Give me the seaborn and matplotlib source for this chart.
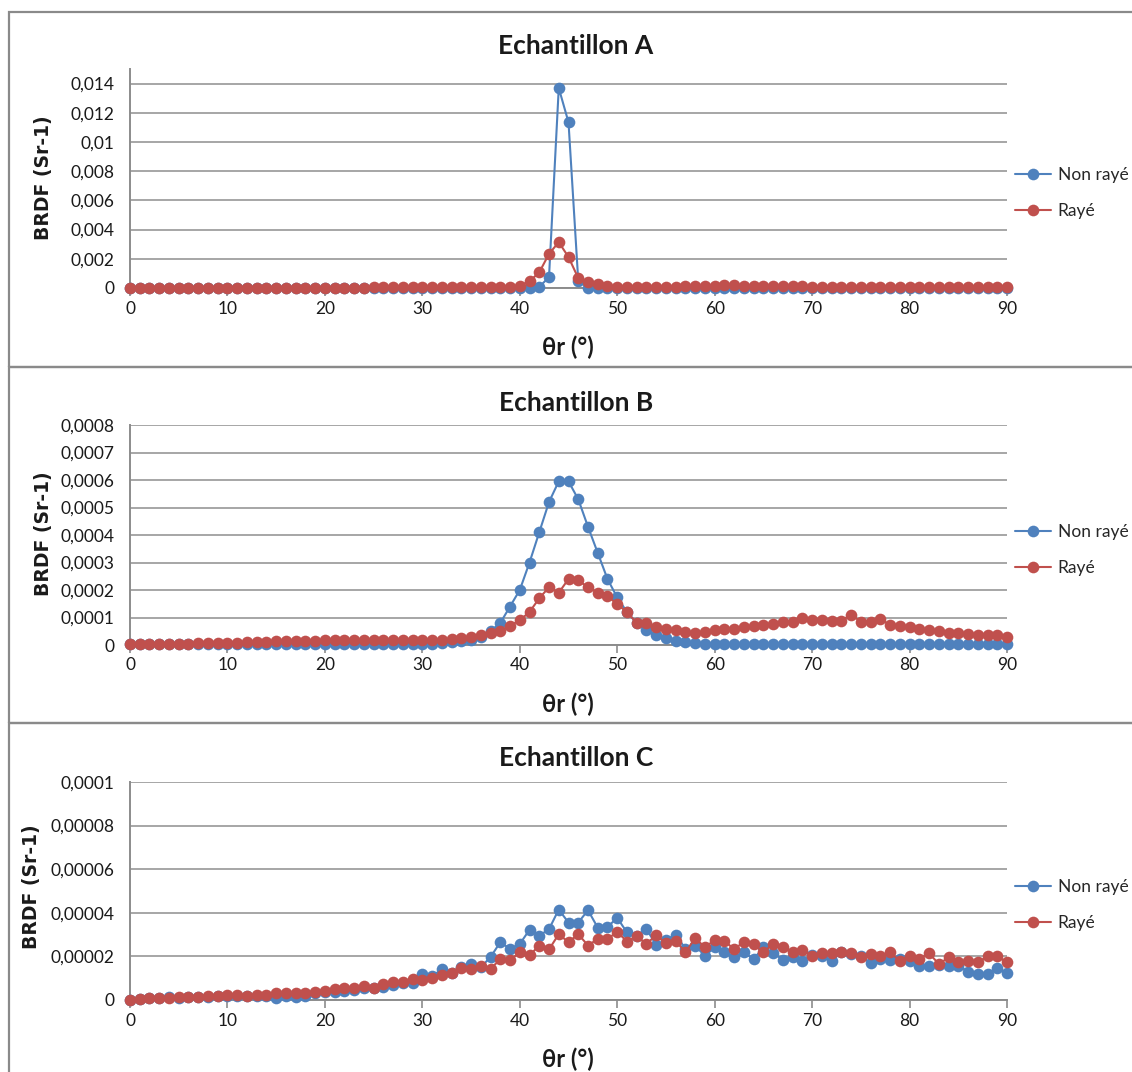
import matplotlib
matplotlib.use("Agg")
import numpy as np
import pandas as pd
import seaborn as sns
import matplotlib.pyplot as plt
from matplotlib.patches import Rectangle
from matplotlib.lines import Line2D

# ---------------- data ----------------
theta = list(range(0, 91))

series_names = ["Non rayé", "Rayé"]
titles = ["Echantillon A", "Echantillon B", "Echantillon C"]

a_non_raye = [
    0.00001, 0.00001, 0.00001, 0.00001, 0.00001, 0.00001, 0.00001, 0.00001, 0.00001, 0.00001,
    0.00001, 0.00001, 0.00001, 0.00001, 0.00001, 0.00001, 0.00001, 0.00001, 0.00001, 0.00001,
    0.00001, 0.00001, 0.00001, 0.00001, 0.00001, 0.00001, 0.00001, 0.00001, 0.00001, 0.00001,
    0.00001, 0.00001, 0.00001, 0.00001, 0.00001, 0.00001, 0.00001, 0.00001, 0.00001, 0.00001,
    0.00001, 0.00002, 0.00007, 0.00075, 0.0137, 0.01135, 0.0005, 0.00001, 0.00001, 0.00001,
    0.00001, 0.00001, 0.00001, 0.00001, 0.00001, 0.00001, 0.00001, 0.00001, 0.00001, 0.00002,
    0.00003, 0.00003, 0.00003, 0.00003, 0.00003, 0.00003, 0.00003, 0.00002, 0.00002, 0.00001,
    0.00001, 0.00001, 0.00001, 0.00001, 0.00001, 0.00001, 0.00001, 0.00001, 0.00001, 0.00001,
    0.00001, 0.00001, 0.00001, 0.00001, 0.00001, 0.00001, 0.00001, 0.00001, 0.00001, 0.00001,
    0.00001,
]
a_raye = [
    0.00002, 0.00002, 0.00002, 0.00002, 0.00002, 0.00002, 0.00002, 0.00002, 0.00002, 0.00002,
    0.00002, 0.00002, 0.00002, 0.00002, 0.00002, 0.00002, 0.00002, 0.00002, 0.00002, 0.00002,
    0.00002, 0.00002, 0.00002, 0.00002, 0.00003, 0.00004, 0.00004, 0.00004, 0.00004, 0.00004,
    0.00004, 0.00004, 0.00004, 0.00004, 0.00004, 0.00005, 0.00005, 0.00006, 0.00008, 0.0001,
    0.00016, 0.00046, 0.00107, 0.00234, 0.00314, 0.00212, 0.00068, 0.00039, 0.0003, 0.00015,
    0.0001, 0.0001, 0.0001, 0.0001, 0.0001, 0.0001, 0.0001, 0.00011, 0.00012, 0.00014,
    0.00016, 0.00018, 0.00018, 0.00017, 0.00016, 0.00015, 0.00015, 0.00014, 0.00013, 0.00011,
    0.00008, 0.00006, 0.00005, 0.00005, 0.00004, 0.00004, 0.00004, 0.00004, 0.00004, 0.00004,
    0.00004, 0.00004, 0.00004, 0.00004, 0.00004, 0.00004, 0.00004, 0.00004, 0.00004, 0.00004,
    0.00004,
]

b_non_raye = [
    0.000002, 0.000002, 0.000002, 0.000002, 0.000002, 0.000002, 0.000002, 0.000002, 0.000002, 0.000002,
    0.000003, 0.000003, 0.000003, 0.000003, 0.000003, 0.000003, 0.000003, 0.000003, 0.000003, 0.000003,
    0.000003, 0.000003, 0.000003, 0.000003, 0.000003, 0.000003, 0.000003, 0.000003, 0.000003, 0.000003,
    0.000003, 0.000004, 0.000006, 0.00001, 0.000015, 0.00002, 0.00003, 0.00005, 0.00008, 0.00014,
    0.0002, 0.0003, 0.00041, 0.00052, 0.000595, 0.000595, 0.00053, 0.00043, 0.000335, 0.00024,
    0.000173, 0.00012, 0.00008, 0.000055, 0.000035, 0.000025, 0.000015, 0.00001, 0.000007, 0.000005,
    0.000003, 0.000003, 0.000003, 0.000003, 0.000003, 0.000003, 0.000003, 0.000003, 0.000003, 0.000003,
    0.000003, 0.000003, 0.000003, 0.000003, 0.000003, 0.000003, 0.000003, 0.000003, 0.000003, 0.000003,
    0.000003, 0.000003, 0.000003, 0.000003, 0.000003, 0.000003, 0.000003, 0.000003, 0.000003, 0.000003,
    0.000003,
]
b_raye = [
    0.000003, 0.000004, 0.000004, 0.000004, 0.000005, 0.000005, 0.000005, 0.000006, 0.000006, 0.000006,
    0.000007, 0.000008, 0.00001, 0.000012, 0.000012, 0.000013, 0.000014, 0.000013, 0.000014, 0.000016,
    0.000018, 0.00002, 0.000019, 0.000018, 0.000018, 0.000018, 0.000018, 0.000019, 0.00002, 0.00002,
    0.000019, 0.000018, 0.000019, 0.000022, 0.000025, 0.000028, 0.000035, 0.000045, 0.00005, 0.00007,
    0.00009, 0.00012, 0.00017, 0.00021, 0.00019, 0.00024, 0.000235, 0.00021, 0.00019, 0.000178,
    0.000148, 0.00012, 0.00008, 0.00008, 0.000065, 0.00006, 0.000055, 0.000048, 0.000045, 0.000048,
    0.000055, 0.000058, 0.00006, 0.000064, 0.00007, 0.000074, 0.000078, 0.000085, 0.000085, 0.0001,
    0.00009, 0.00009, 0.000088, 0.000088, 0.00011, 0.000085, 0.000085, 0.000093, 0.000074, 0.00007,
    0.000065, 0.00006, 0.000055, 0.00005, 0.000045, 0.000045, 0.00004, 0.000035, 0.000035, 0.000035,
    0.00003,
]

c_unit = 1e-5
c_non_raye = [
    0.0, 0.05, 0.08, 0.1, 0.12, 0.1, 0.12, 0.12, 0.15, 0.18,
    0.2, 0.18, 0.2, 0.18, 0.2, 0.08, 0.2, 0.15, 0.2, 0.3,
    0.35, 0.35, 0.4, 0.45, 0.55, 0.55, 0.6, 0.7, 0.8, 0.77,
    1.2, 1.1, 1.4, 1.25, 1.5, 1.67, 1.5, 1.97, 2.65, 2.35,
    2.57, 3.22, 2.95, 3.25, 4.15, 3.55, 3.55, 4.12, 3.32, 3.35,
    3.77, 3.1, 2.95, 3.25, 2.53, 2.75, 3.0, 2.35, 2.48, 2.03,
    2.41, 2.18, 1.95, 2.18, 1.88, 2.41, 2.15, 1.85, 1.95, 1.8,
    2.06, 2.0, 1.8, 2.18, 2.1, 2.0, 1.7, 1.9, 1.85, 1.88,
    1.8, 1.55, 1.55, 1.6, 1.55, 1.58, 1.3, 1.2, 1.2, 1.45,
    1.24,
]
c_raye = [
    0.0, 0.05, 0.08, 0.1, 0.1, 0.12, 0.12, 0.15, 0.2, 0.2,
    0.22, 0.22, 0.2, 0.22, 0.25, 0.3, 0.3, 0.3, 0.32, 0.36,
    0.39, 0.5, 0.54, 0.57, 0.66, 0.57, 0.72, 0.81, 0.81, 0.96,
    0.92, 1.02, 1.14, 1.26, 1.47, 1.41, 1.56, 1.44, 1.86, 1.82,
    2.2, 2.05, 2.5, 2.32, 3.02, 2.65, 3.02, 2.5, 2.8, 2.8,
    3.13, 2.68, 2.92, 2.57, 2.98, 2.6, 2.72, 2.18, 2.85, 2.41,
    2.76, 2.71, 2.33, 2.67, 2.56, 2.18, 2.59, 2.41, 2.18, 2.3,
    2.03, 2.15, 2.15, 2.18, 2.15, 1.95, 2.1, 2.0, 2.18, 1.8,
    2.03, 1.88, 2.15, 1.65, 1.95, 1.76, 1.8, 1.73, 2.0, 2.0,
    1.73,
]

x_ticks = [0, 10, 20, 30, 40, 50, 60, 70, 80, 90]
x_ticklabels = ["0", "10", "20", "30", "40", "50", "60", "70", "80", "90"]

a_yticks = [0, 0.002, 0.004, 0.006, 0.008, 0.010, 0.012, 0.014]
a_yticklabels = ["0", "0,002", "0,004", "0,006", "0,008", "0,01", "0,012", "0,014"]
b_yticks = [0, 0.0001, 0.0002, 0.0003, 0.0004, 0.0005, 0.0006, 0.0007, 0.0008]
b_yticklabels = ["0", "0,0001", "0,0002", "0,0003", "0,0004", "0,0005", "0,0006", "0,0007", "0,0008"]
c_yticks = [0, 0.00002, 0.00004, 0.00006, 0.00008, 0.0001]
c_yticklabels = ["0", "0,00002", "0,00004", "0,00006", "0,00008", "0,0001"]

# ---------------- style ----------------
sns.set_theme(style="white")
plt.rcParams["font.family"] = ["Lato", "DejaVu Sans"]

BLUE = "#4F81BD"
RED = "#C0504D"
GRID = "#A6A6A6"
AXC = "#8C8C8C"
TXT = "#1A1A1A"
MS = 8.4

W, H = 1132, 1072
fig = plt.figure(figsize=(W / 100, H / 100), dpi=100)
fig.patch.set_facecolor("white")


def fx(px):
    return px / W


def fy(py):
    return 1 - py / H


# panel frames
frames = [(12, 367), (367, 723), (723, 1090)]
for top, bot in frames:
    fig.add_artist(Rectangle((fx(9), fy(bot)), fx(1200), (bot - top) / H,
                             transform=fig.transFigure, fill=False,
                             edgecolor="#8A8A8A", linewidth=1.6))

panels = [
    dict(title=titles[0], nr=a_non_raye, r=a_raye, ylim=(0, 0.015),
         yt=a_yticks, ytl=a_yticklabels, top=69, bottom=288, off=0, ylx=43, yly=178),
    dict(title=titles[1], nr=b_non_raye, r=b_raye, ylim=(0, 0.0008),
         yt=b_yticks, ytl=b_yticklabels, top=425, bottom=645, off=357, ylx=43, yly=534),
    dict(title=titles[2], nr=[v * c_unit for v in c_non_raye], r=[v * c_unit for v in c_raye],
         ylim=(0, 0.0001), yt=c_yticks, ytl=c_yticklabels, top=782, bottom=1000, off=712,
         ylx=32, yly=887),
]

for p in panels:
    ax = fig.add_axes([fx(130), fy(p["bottom"]), 877 / W, (p["bottom"] - p["top"]) / H])
    df = pd.DataFrame({"theta": theta, series_names[0]: p["nr"], series_names[1]: p["r"]})
    df = df.melt(id_vars="theta", var_name="serie", value_name="BRDF")
    sns.lineplot(data=df, x="theta", y="BRDF", hue="serie", hue_order=series_names,
                 palette=[BLUE, RED], marker="o", markersize=MS, markeredgewidth=0,
                 linewidth=1.5, ax=ax, legend=False, clip_on=False, zorder=3)
    ax.set_xlim(0, 90)
    ax.set_ylim(*p["ylim"])
    ax.set_xticks(x_ticks)
    ax.set_xticklabels(x_ticklabels)
    ax.set_yticks(p["yt"])
    ax.set_yticklabels(p["ytl"])
    ax.set_xlabel("")
    ax.set_ylabel("")
    ax.yaxis.grid(True, color=GRID, linewidth=1.4)
    ax.xaxis.grid(False)
    ax.set_axisbelow(True)
    for s in ["top", "right"]:
        ax.spines[s].set_visible(False)
    for s in ["left", "bottom"]:
        ax.spines[s].set_color(AXC)
        ax.spines[s].set_linewidth(1.4)
    ax.tick_params(axis="x", direction="out", length=6, width=1.2, color=AXC,
                   labelsize=12.5, labelcolor=TXT, pad=3, bottom=True)
    ax.tick_params(axis="y", length=0, labelsize=12.5, labelcolor=TXT, pad=11)

    off = p["off"]
    fig.text(fx(576), fy(46 + off), p["title"], ha="center", va="center",
             fontsize=19, fontweight="bold", color=TXT)
    fig.text(fx(568), fy(347 + off), "θr (°)", ha="center", va="center",
             fontsize=17, fontweight="bold", color=TXT)
    fig.text(fx(p["ylx"]), fy(p["yly"]), "BRDF (Sr-1)", ha="center", va="center",
             rotation=90, fontsize=13.5, fontweight="bold", color=TXT,
             family=["DejaVu Sans"])

    handles = [Line2D([0], [0], color=BLUE, marker="o", markersize=MS, markeredgewidth=0, linewidth=1.5),
               Line2D([0], [0], color=RED, marker="o", markersize=MS, markeredgewidth=0, linewidth=1.5)]
    ax.legend(handles, series_names, loc="center left",
              bbox_to_anchor=(fx(1015), fy(193 + off)), bbox_transform=fig.transFigure,
              frameon=False, fontsize=12.5, handlelength=2.1, handletextpad=0.35,
              labelspacing=1.2, borderaxespad=0, borderpad=0)

fig.savefig("out.png", dpi=100, facecolor="white")
